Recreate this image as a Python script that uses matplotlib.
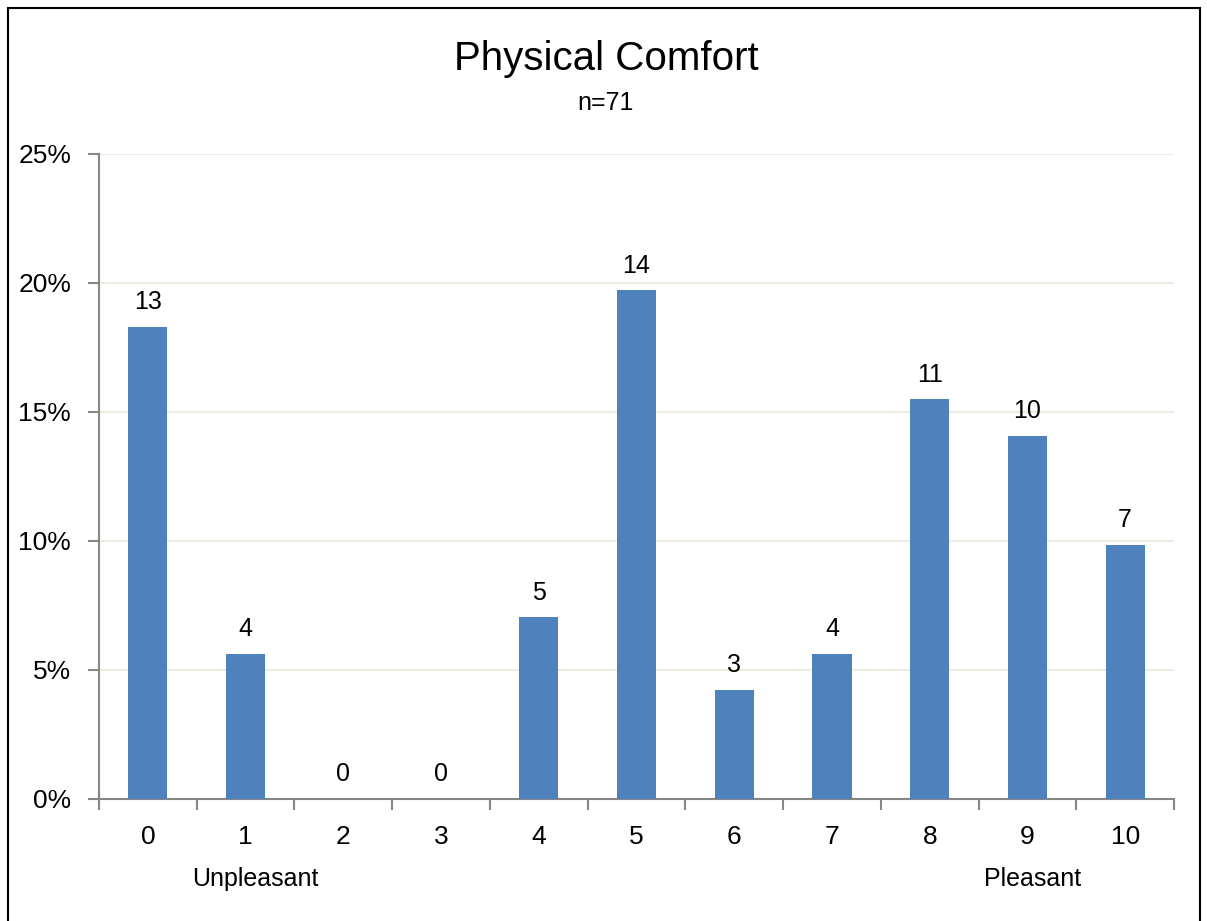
import matplotlib
matplotlib.use("Agg")
import matplotlib.pyplot as plt
from matplotlib.patches import Rectangle
from matplotlib.ticker import FuncFormatter
from matplotlib import font_manager

names = {f.name for f in font_manager.fontManager.ttflist}
fam = ['Liberation Sans Narrow'] if 'Liberation Sans Narrow' in names else ['Liberation Sans']
plt.rcParams['font.family'] = fam + ['DejaVu Sans']

categories = ['0', '1', '2', '3', '4', '5', '6', '7', '8', '9', '10']
counts = [13, 4, 0, 0, 5, 14, 3, 4, 11, 10, 7]
n_total = 71
title = "Physical Comfort"
subtitle = "n=71"
yticks = [0, 0.05, 0.10, 0.15, 0.20, 0.25]

pct = [c / n_total for c in counts]

fig = plt.figure(figsize=(12.07, 9.21), dpi=100)
ax = fig.add_axes([0.0820, 0.1325, 0.8907, 0.7003])

x = list(range(len(categories)))
ax.bar(x, pct, width=0.4, color='#4F81BD', zorder=3)
for xi, p, c in zip(x, pct, counts):
    ax.annotate(str(c), (xi, p), xytext=(0, 9), textcoords='offset points',
                ha='center', va='bottom', fontsize=18, color='black')

ax.set_xlim(-0.5, len(categories) - 0.5)
ax.set_ylim(0, 0.25)
ax.set_yticks(yticks)
ax.yaxis.set_major_formatter(FuncFormatter(lambda v, _: f"{v*100:.0f}%"))
ax.set_xticks(x)
ax.set_xticklabels(categories)
ax.set_xticks([i - 0.5 for i in range(len(categories) + 1)], minor=True)

ax.grid(axis='y', color='#EEECE1', linewidth=1.5, zorder=0)
for s in ['top', 'right']:
    ax.spines[s].set_visible(False)
for s in ['left', 'bottom']:
    ax.spines[s].set_color('#868686')
    ax.spines[s].set_linewidth(1.5)
ax.tick_params(axis='y', which='major', length=8, width=1.5, color='#868686',
               labelsize=19, pad=12)
ax.tick_params(axis='x', which='major', length=0, labelsize=19, pad=19)
ax.tick_params(axis='x', which='minor', length=8, width=1.5, color='#868686')

t1 = ax.text(1.1, -0.031, "Unpleasant", transform=ax.transData, ha='center', va='center',
             fontsize=18)
t2 = ax.text(9.05, -0.031, "Pleasant", transform=ax.transData, ha='center', va='center',
             fontsize=18)
t1.set_clip_on(False)
t2.set_clip_on(False)

fig.text(0.502, 1 - 59 / 921, title, ha='center', va='center', fontsize=29)
fig.text(0.502, 1 - 103 / 921, subtitle, ha='center', va='center', fontsize=18)

fig.patches.append(Rectangle((8 / 1207, -0.02), (1200 - 8) / 1207, 1 - 8 / 921 + 0.02,
                             transform=fig.transFigure, fill=False,
                             edgecolor='black', linewidth=1.5))

fig.savefig("out.png", dpi=100)
